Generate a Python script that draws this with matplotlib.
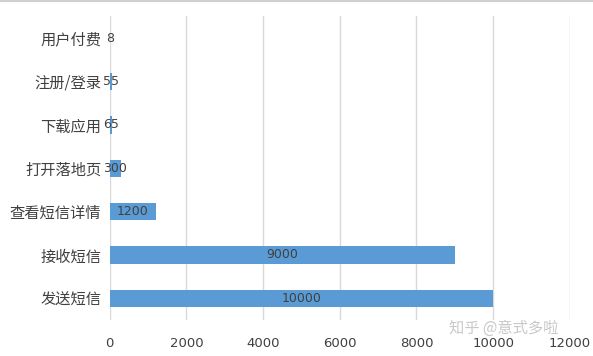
import matplotlib.pyplot as plt
from matplotlib.lines import Line2D

plt.rcParams['font.family'] = ['Noto Sans CJK SC', 'DejaVu Sans']

# 数据
categories = ["用户付费", "注册/登录", "下载应用", "打开落地页", "查看短信详情", "接收短信", "发送短信"]
values = [8, 55, 65, 300, 1200, 9000, 10000]
x_ticks = [0, 2000, 4000, 6000, 8000, 10000, 12000]

fig = plt.figure(figsize=(5.93, 3.56), dpi=100)
ax = fig.add_axes([0.185, 0.101, 0.776, 0.853])

y_pos = list(range(len(categories)))
bars = ax.barh(y_pos, values, height=0.4, color="#5B9BD5", zorder=3)

# etiquetas centradas en cada barra
for b, v in zip(bars, values):
    ax.text(b.get_width() / 2, b.get_y() + b.get_height() / 2, str(v),
            ha="center", va="center", fontsize=9, color="#404040", zorder=4,
            family=["DejaVu Sans"])

ax.set_ylim(len(categories) - 0.5, -0.5)
ax.set_xlim(0, 12000)
ax.set_yticks(y_pos)
ax.set_yticklabels(categories, fontsize=11, color="#404040")
ax.set_xticks(x_ticks)
ax.set_xticklabels([str(t) for t in x_ticks], fontsize=9.5, color="#404040",
                   family=["DejaVu Sans"])
ax.tick_params(axis="both", length=0)
ax.tick_params(axis="y", pad=6)
ax.tick_params(axis="x", pad=12)

ax.grid(axis="x", color="#D9D9D9", linewidth=1, zorder=0)
for s in ax.spines.values():
    s.set_visible(False)

# línea superior del marco
fig.add_artist(Line2D([0, 1], [0.996, 0.996], color="#D0D0D0", linewidth=1.5,
                      transform=fig.transFigure))

# marca de agua
fig.text(0.85, 0.078, "知乎 @意式多啦", fontsize=11, color="#BBBBBB", alpha=0.8,
         ha="center", va="center")

fig.savefig("out.png", dpi=100)
